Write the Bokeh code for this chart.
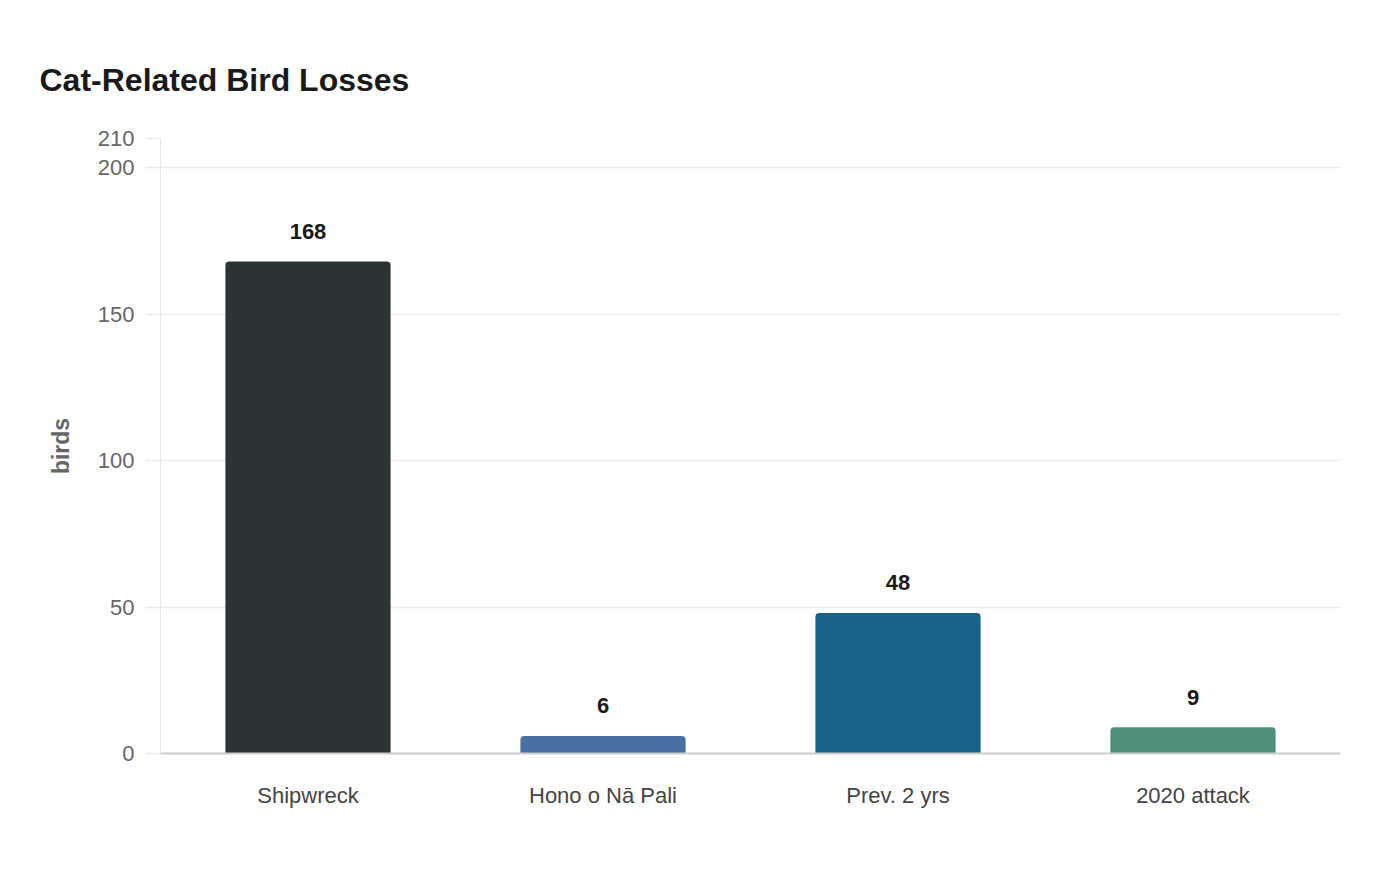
from bokeh.plotting import figure
from bokeh.models import ColumnDataSource, FixedTicker, Range1d, Title
from bokeh.embed import file_html
from bokeh.resources import INLINE
from bokeh.core.properties import value

categories = ["Shipwreck", "Hono o Nā Pali", "Prev. 2 yrs", "2020 attack"]
birds = [168, 6, 48, 9]
colors = ["#2d3436", "#4a6fa5", "#186389", "#4f8f7a"]
y_ticks = [0, 50, 100, 150, 200, 210]

FONT = "Liberation Sans"

src = ColumnDataSource(dict(cat=categories, birds=birds, color=colors,
                            label=[str(b) for b in birds]))

p = figure(x_range=categories, y_range=Range1d(0, 210),
           width=1384, height=864, output_backend="svg", toolbar_location=None,
           min_border_left=160, min_border_right=44, min_border_top=138,
           min_border_bottom=111)
p.title = None
t = Title(text="Cat-Related Bird Losses", align="left", offset=-121,
          text_font=FONT, text_font_size="32px", text_font_style="bold",
          text_color="#1a1a1a", standoff=81)
p.add_layout(t, "above")

p.vbar(x="cat", top="birds", width=0.56, source=src, fill_color="color",
       line_color=None, border_radius=(4, 4, 0, 0))

p.text(x="cat", y="birds", text="label", source=src, y_offset=-30,
       text_align="center", text_baseline="middle",
       text_font=value(FONT), text_font_size="22px", text_font_style="bold",
       text_color="#1a1a1a")

p.outline_line_color = None
p.background_fill_color = "white"
p.border_fill_color = "white"

p.xgrid.grid_line_color = None
p.ygrid.grid_line_color = "#ebebeb"
p.ygrid.grid_line_width = 1.5

p.yaxis.ticker = FixedTicker(ticks=y_ticks)
p.yaxis.axis_line_color = "#cfcfcf"
p.yaxis.axis_line_dash = "1 1"
p.yaxis.major_tick_line_color = "#ebebeb"
p.yaxis.major_tick_line_width = 1.5
p.yaxis.major_tick_out = 15
p.yaxis.major_tick_in = 0
p.yaxis.minor_tick_line_color = None
p.yaxis.major_label_standoff = 11
p.yaxis.major_label_text_font = FONT
p.yaxis.major_label_text_font_size = "22px"
p.yaxis.major_label_text_color = "#666666"
p.yaxis.axis_label = "birds"
p.yaxis.axis_label_text_font = FONT
p.yaxis.axis_label_text_font_size = "23px"
p.yaxis.axis_label_text_font_style = "bold"
p.yaxis.axis_label_text_color = "#666666"
p.yaxis.axis_label_standoff = 21

p.xaxis.axis_line_color = "#cccccc"
p.xaxis.axis_line_width = 2
p.xaxis.major_tick_line_color = None
p.xaxis.minor_tick_line_color = None
p.xaxis.major_label_standoff = 23
p.xaxis.major_label_text_font = FONT
p.xaxis.major_label_text_font_size = "22px"
p.xaxis.major_label_text_color = "#444444"

open("out.html", "w").write(file_html(p, INLINE))
